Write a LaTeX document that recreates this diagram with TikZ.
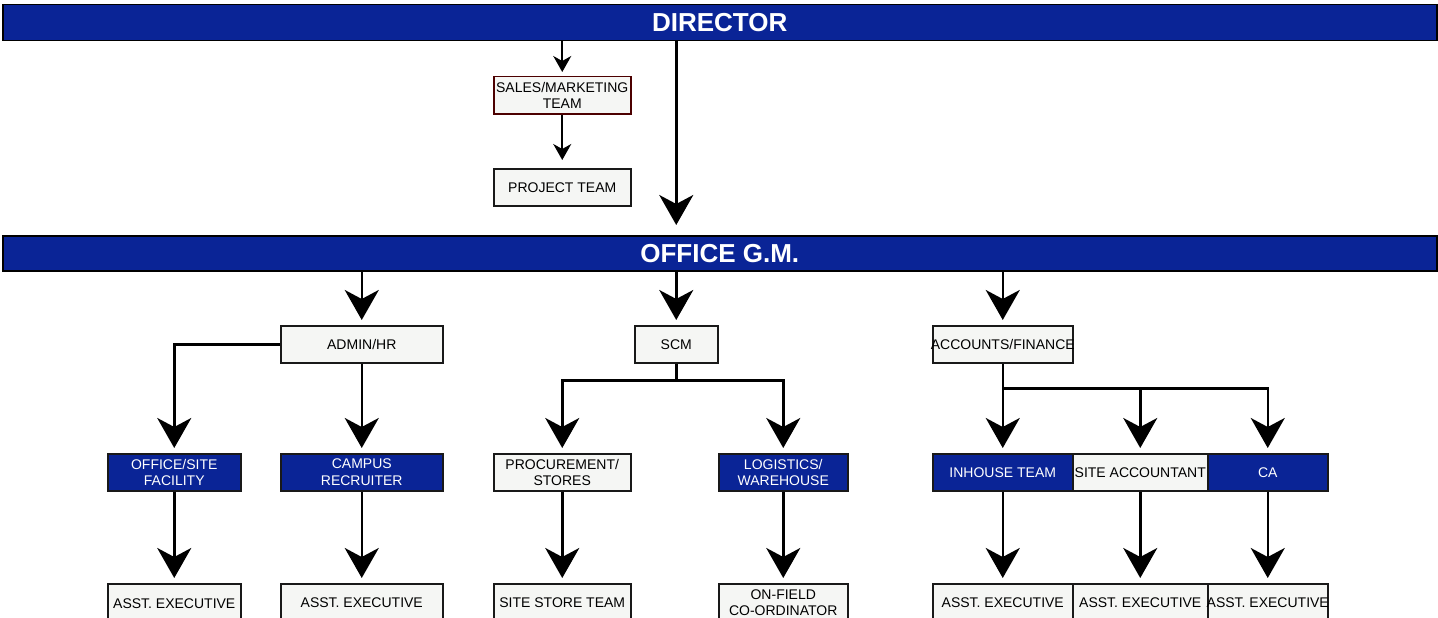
\documentclass[tikz,border=0pt]{standalone}
\usepackage{fontspec}
\setmainfont{Liberation Sans}
\usetikzlibrary{arrows.meta}
\definecolor{myblue}{HTML}{0A2496}
\definecolor{boxgrey}{HTML}{F5F6F4}
\newcommand{\fitbox}[2]{\makebox[#1][c]{#2}}
\begin{document}
\begin{tikzpicture}[x=1pt,y=-1pt,
  base/.style={anchor=north west, inner sep=0pt, align=center, line width=1.5pt, draw=black!90,
    font=\fontsize{14}{16.5}\selectfont},
  bluebox/.style={base, fill=myblue, text=white},
  greybox/.style={base, fill=boxgrey, text=black},
  bar/.style={anchor=north west, inner sep=0pt, draw=black, line width=1.5pt, fill=myblue, text=white,
    font=\bfseries\fontsize{26}{30}\selectfont, minimum width=1434pt},
  conn/.style={line width=2.5pt, draw=black},
  arr/.style={conn, -{Stealth[length=30pt,width=34pt,inset=9pt]}},
  smallarr/.style={line width=1.6pt, draw=black, -{Stealth[length=16pt,width=18pt,inset=5pt]}}
]
\useasboundingbox (0,0) rectangle (1438,618);
\fill[white] (0,0) rectangle (1438,618);

% bars
\node[bar, minimum height=36pt] (director) at (2,4) {DIRECTOR};
\node[bar, minimum height=35pt] (gm) at (2,235) {OFFICE G.M.};

% top boxes
\node[greybox, draw=black!70!red, minimum width=137pt, minimum height=37pt] (sales) at (493,76) {SALES/MARKETING\\TEAM};
\node[greybox, minimum width=137pt, minimum height=37pt] (project) at (493,168) {PROJECT TEAM};

% level 2
\node[greybox, minimum width=162pt, minimum height=37pt] (admin) at (280,325) {ADMIN/HR};
\node[greybox, minimum width=83pt, minimum height=37pt] (scm) at (634,325) {SCM};
\node[greybox, minimum width=140pt, minimum height=37pt] (acc) at (932,325) {\fitbox{140pt}{ACCOUNTS/FINANCE}};

% level 3
\node[bluebox, minimum width=133pt, minimum height=37pt] (office) at (107,453) {OFFICE/SITE\\FACILITY};
\node[bluebox, minimum width=162pt, minimum height=37pt] (campus) at (280,453) {CAMPUS\\RECRUITER};
\node[greybox, minimum width=137pt, minimum height=37pt] (proc) at (493,453) {PROCUREMENT/\\STORES};
\node[bluebox, minimum width=129pt, minimum height=37pt] (logi) at (718,453) {LOGISTICS/\\WAREHOUSE};
\node[bluebox, minimum width=140pt, minimum height=37pt] (inh) at (932,453) {\fitbox{140pt}{INHOUSE TEAM}};
\node[greybox, minimum width=135pt, minimum height=37pt] (site) at (1072,453) {\fitbox{135pt}{SITE ACCOUNTANT}};
\node[bluebox, minimum width=120pt, minimum height=37pt] (ca) at (1207,453) {\fitbox{120pt}{CA}};

% level 4
\node[greybox, minimum width=133pt, minimum height=40pt] (ae1) at (107,583) {\fitbox{133pt}{ASST. EXECUTIVE}};
\node[greybox, minimum width=162pt, minimum height=38pt] (ae2) at (280,583) {\fitbox{162pt}{ASST. EXECUTIVE}};
\node[greybox, minimum width=137pt, minimum height=38pt] (sst) at (493,583) {\fitbox{137pt}{SITE STORE TEAM}};
\node[greybox, minimum width=129pt, minimum height=38pt] (ofc) at (718,583) {ON-FIELD\\CO-ORDINATOR};
\node[greybox, minimum width=140pt, minimum height=38pt] (ae3) at (932,583) {\fitbox{140pt}{ASST. EXECUTIVE}};
\node[greybox, minimum width=135pt, minimum height=38pt] (ae4) at (1072,583) {\fitbox{135pt}{ASST. EXECUTIVE}};
\node[greybox, minimum width=120pt, minimum height=38pt] (ae5) at (1207,583) {\fitbox{120pt}{ASST. EXECUTIVE}};

% director connectors
\draw[smallarr] (director.south -| sales.north) -- ([yshift=4pt]sales.north);
\draw[smallarr] (sales.south) -- ([yshift=8pt]project.north);
\draw[arr] (director.south -| scm.north) -- ([yshift=10pt]gm.north -| scm.north);

% GM connectors
\draw[arr] (gm.south -| admin.north) -- ([yshift=5pt]admin.north);
\draw[arr] (gm.south -| scm.north) -- ([yshift=5pt]scm.north);
\draw[arr] (gm.south -| acc.north) -- ([yshift=5pt]acc.north);

% admin
\draw[arr] (admin.west) -| ([yshift=5pt]office.north);
\draw[arr] (admin.south) -- ([yshift=5pt]campus.north);

% scm
\coordinate (scmj) at ([yshift=-17pt]scm.south);
\draw[conn] (scm.south) -- (scmj);
\draw[arr] (scmj) -| ([yshift=5pt]proc.north);
\draw[arr] (scmj) -| ([yshift=5pt]logi.north);

% accounts
\coordinate (accj) at ([yshift=-25pt]acc.south);
\draw[arr] (acc.south) -- ([yshift=5pt]inh.north);
\draw[arr] (accj) -| ([yshift=5pt]site.north);
\draw[arr] (accj) -| ([yshift=5pt]ca.north);

% level 3 -> 4
\draw[arr] (office.south) -- ([yshift=5pt]ae1.north);
\draw[arr] (campus.south) -- ([yshift=5pt]ae2.north);
\draw[arr] (proc.south) -- ([yshift=5pt]sst.north);
\draw[arr] (logi.south) -- ([yshift=5pt]ofc.north);
\draw[arr] (inh.south) -- ([yshift=5pt]ae3.north);
\draw[arr] (site.south) -- ([yshift=5pt]ae4.north);
\draw[arr] (ca.south) -- ([yshift=5pt]ae5.north);
\end{tikzpicture}
\end{document}
